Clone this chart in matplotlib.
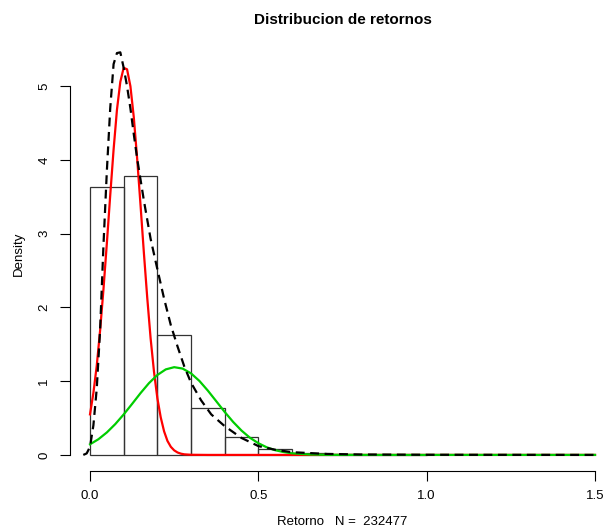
import matplotlib.pyplot as plt
import numpy as np

plt.rcParams['font.family'] = ['Liberation Sans', 'DejaVu Sans']

# histogram of returns (density scale, bins of 0.1)
bin_left = [0.0, 0.1, 0.2, 0.3, 0.4, 0.5, 0.6, 0.7, 0.8, 0.9]
bin_density = [3.64, 3.78, 1.63, 0.63, 0.24, 0.077, 0.02, 0.007, 0.003, 0.001]

# fitted curve (red)
red_x = [0.00, 0.01, 0.02, 0.03, 0.04, 0.05, 0.06, 0.07, 0.08, 0.09, 0.10, 0.11,
         0.12, 0.13, 0.14, 0.15, 0.16, 0.17, 0.18, 0.19, 0.20, 0.21, 0.22, 0.23,
         0.24, 0.25, 0.26, 0.27, 0.28, 0.30, 0.35, 0.50, 1.00, 1.50]
red_y = [0.55, 0.84, 1.21, 1.69, 2.25, 2.87, 3.52, 4.14, 4.68, 5.06, 5.25, 5.23,
         5.00, 4.58, 4.02, 3.39, 2.74, 2.13, 1.58, 1.13, 0.77, 0.51, 0.32, 0.19,
         0.11, 0.062, 0.033, 0.017, 0.008, 0.002, 0.0, 0.0, 0.0, 0.0]

# fitted curve (green)
green_x = [0.000, 0.025, 0.050, 0.075, 0.100, 0.125, 0.150, 0.175, 0.200, 0.225,
           0.250, 0.275, 0.300, 0.325, 0.350, 0.375, 0.400, 0.425, 0.450, 0.475,
           0.500, 0.525, 0.550, 0.575, 0.600, 0.650, 0.700, 0.750, 1.000, 1.500]
green_y = [0.144, 0.213, 0.305, 0.418, 0.549, 0.692, 0.838, 0.973, 1.084, 1.160,
           1.190, 1.171, 1.106, 1.003, 0.872, 0.728, 0.583, 0.448, 0.330, 0.233,
           0.159, 0.103, 0.064, 0.039, 0.022, 0.0065, 0.0015, 0.0003, 0.0, 0.0]

# kernel density (black dashed)
kde_x = [-0.02, -0.01, 0.00, 0.01, 0.02, 0.03, 0.04, 0.05, 0.06, 0.07, 0.08, 0.09,
         0.10, 0.11, 0.12, 0.13, 0.14, 0.16, 0.18, 0.20, 0.22, 0.24, 0.26, 0.28,
         0.30, 0.33, 0.36, 0.40, 0.45, 0.50, 0.55, 0.60, 0.70, 0.80, 1.00, 1.50]
kde_y = [0.0, 0.02, 0.11, 0.40, 0.90, 1.70, 2.85, 3.85, 4.70, 5.30, 5.45, 5.46,
         5.25, 5.00, 4.70, 4.35, 4.02, 3.45, 2.93, 2.52, 2.12, 1.76, 1.47, 1.20,
         0.98, 0.74, 0.55, 0.39, 0.23, 0.12, 0.07, 0.037, 0.014, 0.006, 0.002, 0.0]

x_ticks = [0.0, 0.5, 1.0, 1.5]
y_ticks = [0, 1, 2, 3, 4, 5]

fig = plt.figure(figsize=(6.05, 5.31), dpi=100)
ax = fig.add_axes([0.1154, 0.113, 0.9015, 0.819])

ax.bar(bin_left, bin_density, width=0.1, align='edge', fill=False,
       edgecolor='#333333', linewidth=0.9)
ax.plot(red_x, red_y, color='#ff0000', linewidth=1.6)
ax.plot(green_x, green_y, color='#00cd00', linewidth=1.6)
ax.plot(kde_x, kde_y, color='black', linewidth=1.6, dashes=(4, 2.5))

ax.set_xlim(-0.06, 1.56)
ax.set_ylim(-0.218, 5.68)

# R-style detached axes
for side in ['top', 'right']:
    ax.spines[side].set_visible(False)
ax.spines['left'].set_bounds(0, 5)
ax.spines['bottom'].set_bounds(0, 1.5)
ax.spines['left'].set_linewidth(0.8)
ax.spines['bottom'].set_linewidth(0.8)

ax.set_xticks(x_ticks)
ax.set_xticklabels([f'{v:.1f}' for v in x_ticks])
ax.set_yticks(y_ticks)
ax.set_yticklabels([str(v) for v in y_ticks], rotation=90, va='center')
ax.tick_params(direction='out', length=7, width=0.8, labelsize=9.5, pad=7)

ax.set_title('Distribucion de retornos', fontsize=11, fontweight='bold', pad=9)
ax.set_xlabel('Retorno   N =  232477', fontsize=9.5, labelpad=10)
ax.set_ylabel('Density', fontsize=9.5, labelpad=10)

fig.savefig('out.png', dpi=100)
